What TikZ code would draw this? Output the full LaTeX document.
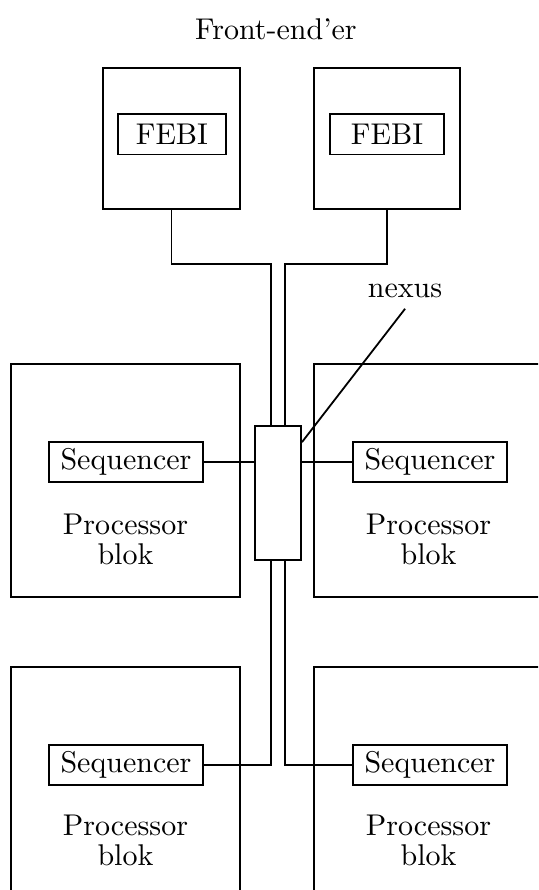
\documentclass[tikz,border=0pt]{standalone}
\usetikzlibrary{calc}

\begin{document}
\begin{tikzpicture}[line width=0.6pt,
  pblok/.style={draw,minimum width=2.68cm,minimum height=2.73cm},
  fend/.style={draw,minimum height=1.65cm},
  tag/.style={draw,inner xsep=2pt,inner ysep=1.5pt,minimum height=0.47cm},
  ptext/.style={align=center}]
\useasboundingbox (0,0) rectangle (6.303,10.426);
\clip (0,0) rectangle (6.303,10.426);

\node at (3.233,10.087) (title) {Front-end'er};

\node [fend,minimum width=1.6cm] at (2.009,8.803) (fe1) {};
\node [fend,minimum width=1.71cm] at (4.534,8.803) (fe2) {};
\node [tag,minimum width=1.27cm] at (2.015,8.851) (febi1) {FEBI};
\node [tag,minimum width=1.34cm] at (4.534,8.851) (febi2) {FEBI};

\node [pblok] at (1.470,4.797) (pb1) {};
\node [pblok] at (5.020,4.797) (pb2) {};
\node [pblok] at (1.470,1.248) (pb3) {};
\node [pblok] at (5.020,1.248) (pb4) {};

\node [tag,minimum width=1.8cm] at (1.476,5.014) (seq1) {Sequencer};
\node [tag,minimum width=1.8cm] at (5.037,5.014) (seq2) {Sequencer};
\node [tag,minimum width=1.8cm] at (1.476,1.464) (seq3) {Sequencer};
\node [tag,minimum width=1.8cm] at (5.037,1.464) (seq4) {Sequencer};

\node [ptext] at (1.470,4.106) (pt1) {Processor\\[-2pt]blok};
\node [ptext] at (5.020,4.106) (pt2) {Processor\\[-2pt]blok};
\node [ptext] at (1.470,0.580) (pt3) {Processor\\[-2pt]blok};
\node [ptext] at (5.020,0.580) (pt4) {Processor\\[-2pt]blok};

\node [draw,minimum width=0.54cm,minimum height=1.57cm] at (3.257,4.651) (nx) {};
\node at (4.745,7.017) (nxl) {nexus};
\coordinate (jl) at ($(nx.north)+(-0.085,0)$);
\coordinate (jr) at ($(nx.north)+(0.085,0)$);

\draw (fe1.south) -- ++(0,-0.63) -| (jl);
\draw (fe2.south) -- ++(0,-0.63) -| (jr);

\draw (seq1.east) -- (seq1.east -| nx.west);
\draw (seq2.west) -- (seq2.west -| nx.east);
\draw (seq3.east) -| (nx.south -| jl);
\draw (seq4.west) -| (nx.south -| jr);

\draw (nxl.south) -- ($(nx.north east)+(0,-0.2)$);

\end{tikzpicture}
\end{document}
